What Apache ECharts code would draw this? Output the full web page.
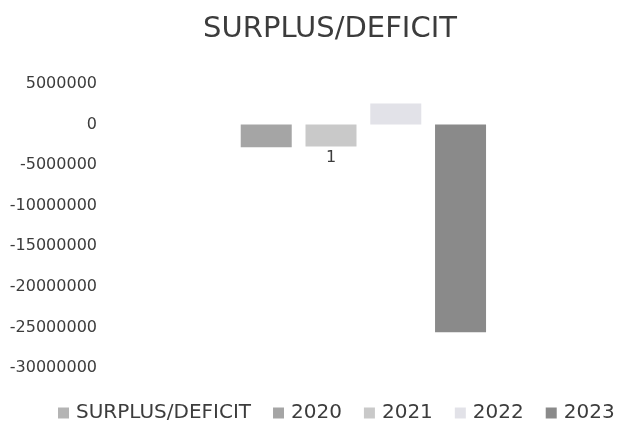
<!DOCTYPE html>
<html>
<head>
<meta charset="utf-8">
<script src="https://cdn.jsdelivr.net/npm/echarts@6/dist/echarts.min.js"></script>
<style>
html,body{margin:0;padding:0;background:#fff;}
#chart{width:618px;height:426px;}
</style>
</head>
<body>
<div id="chart"></div>
<script>
const titleText = 'SURPLUS/DEFICIT';
const categories = ['1'];
const seriesNames = ['SURPLUS/DEFICIT', '2020', '2021', '2022', '2023'];
const surplusDeficit = [null];
const y2020 = [-2800000];
const y2021 = [-2700000];
const y2022 = [2600000];
const y2023 = [-25600000];
const yTicks = { min: -30000000, max: 5000000, interval: 5000000 };

const colors = ['#b4b4b4', '#a5a5a5', '#c9c9c9', '#e2e2e8', '#8a8a8a'];
const seriesData = [surplusDeficit, y2020, y2021, y2022, y2023];
const FONT = '"DejaVu Sans", "Liberation Sans", sans-serif';

const W = 618, H = 426;
const gridTop = 84, gridBottom = 58;
const plotH = H - gridTop - gridBottom;
// place the category axis (labels) on the zero line of the value axis
const zeroOffset = -plotH * (0 - yTicks.min) / (yTicks.max - yTicks.min);

const chart = echarts.init(document.getElementById('chart'), null, { renderer: 'canvas' });
chart.setOption({
  animation: false,
  backgroundColor: '#ffffff',
  color: colors,
  title: {
    text: titleText,
    left: 325, top: 10, textAlign: 'center',
    textStyle: { fontFamily: FONT, fontSize: 29, fontWeight: 'normal', color: '#3c3c3c' }
  },
  legend: {
    data: seriesNames,
    left: 58, top: 403, width: 560, padding: 0,
    itemWidth: 11, itemHeight: 11, itemGap: 22,
    icon: 'rect',
    textStyle: { fontFamily: FONT, fontSize: 20, color: '#3c3c3c', padding: [0, 0, 0, 2] }
  },
  grid: { left: 105, right: 61, top: gridTop, bottom: gridBottom, containLabel: false },
  xAxis: {
    type: 'category',
    data: categories,
    position: 'bottom',
    offset: zeroOffset,
    axisLine: { show: false, onZero: false },
    axisTick: { show: false },
    axisLabel: { fontFamily: FONT, fontSize: 16, color: '#3c3c3c', margin: 25 },
    splitLine: { show: false }
  },
  yAxis: {
    type: 'value',
    min: yTicks.min, max: yTicks.max, interval: yTicks.interval,
    axisLine: { show: false },
    axisTick: { show: false },
    splitLine: { show: false },
    axisLabel: { fontFamily: FONT, fontSize: 16, color: '#3c3c3c', margin: 8, formatter: v => String(v) }
  },
  series: seriesNames.map((name, i) => ({
    name: name,
    type: 'bar',
    data: seriesData[i],
    barWidth: 51,
    barGap: '27%',
    itemStyle: { color: colors[i] }
  }))
});
</script>
</body>
</html>
